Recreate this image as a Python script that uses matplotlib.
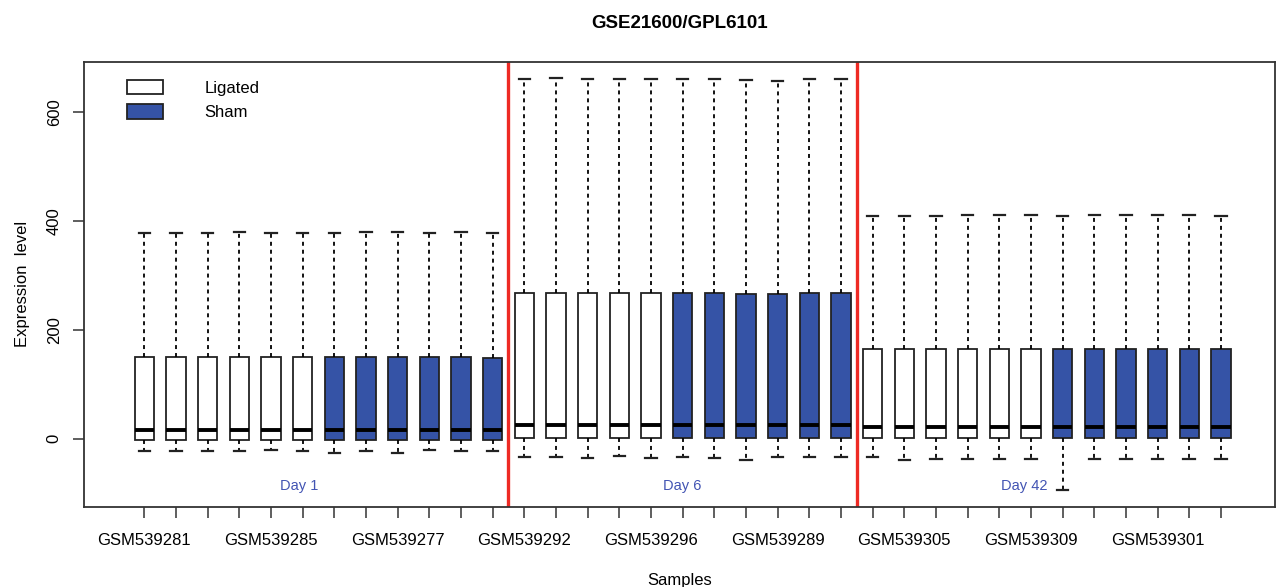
import matplotlib
matplotlib.use("Agg")
import matplotlib.pyplot as plt
from matplotlib.patches import Patch

plt.rcParams["font.family"] = ["Liberation Sans", "DejaVu Sans"]

# sample groups (Ligated / Sham) for the 35 boxes: day 1, day 6, day 42
groups = (["Ligated"] * 6 + ["Sham"] * 6
          + ["Ligated"] * 5 + ["Sham"] * 6
          + ["Ligated"] * 6 + ["Sham"] * 6)

whis_hi = [377, 377, 377, 379, 377, 377, 377, 379, 379, 377, 379, 377,
           660, 662, 660, 660, 660, 660, 660, 659, 657, 660, 660,
           409, 409, 409, 410, 410, 411, 409, 410, 410, 411, 411, 409]
q3 = [149, 149, 149, 149, 149, 149, 149, 149, 149, 149, 149, 148,
      267, 267, 267, 267, 267, 267, 267, 266, 266, 267, 267,
      165, 165, 165, 165, 165, 165, 165, 165, 165, 165, 165, 165]
med = [16, 16, 16, 16, 16, 16, 16, 16, 16, 16, 16, 16,
       26, 26, 26, 26, 26, 26, 26, 26, 26, 26, 26,
       21, 21, 21, 21, 21, 21, 21, 21, 21, 21, 21, 21]
q1 = [-2, -2, -2, -2, -2, -2, -2, -2, -2, -2, -2, -2,
      1, 1, 1, 1, 1, 1, 1, 1, 1, 1, 1,
      1, 1, 1, 1, 1, 1, 1, 1, 1, 1, 1, 1]
whis_lo = [-22, -22, -22, -22, -21, -23, -26, -23, -26, -21, -23, -22,
           -34, -34, -36, -32, -36, -33, -36, -39, -34, -34, -33,
           -34, -39, -37, -37, -38, -38, -94, -38, -37, -37, -37, -37]

# only every 4th sample name is printed on the axis
label_pos = [1, 5, 9, 13, 17, 21, 25, 29, 33]
label_txt = ["GSM539281", "GSM539285", "GSM539277", "GSM539292", "GSM539296",
             "GSM539289", "GSM539305", "GSM539309", "GSM539301"]

day_names = ["Day 1", "Day 6", "Day 42"]
day_x = [5.9, 18.0, 28.8]
day_breaks = [12.5, 23.5]

fill = {"Ligated": "white", "Sham": "#3553a6"}

fig = plt.figure(figsize=(12.76, 5.87), dpi=100)
ax = fig.add_axes([84 / 1276, (587 - 506.7) / 587, (1275 - 84) / 1276, 445 / 587])

stats = []
for i in range(len(med)):
    stats.append({"med": med[i], "q1": q1[i], "q3": q3[i],
                  "whislo": whis_lo[i], "whishi": whis_hi[i], "fliers": []})
pos = list(range(1, len(med) + 1))

bp = ax.bxp(stats, positions=pos, widths=0.61, capwidths=0.36,
            patch_artist=True, showfliers=False,
            boxprops=dict(edgecolor="#222222", linewidth=1.3),
            whiskerprops=dict(color="black", linewidth=1.3, linestyle=(0, (2.2, 2.2))),
            capprops=dict(color="#222222", linewidth=1.6),
            medianprops=dict(color="black", linewidth=2.8, solid_capstyle="butt"))
for box, g in zip(bp["boxes"], groups):
    box.set_facecolor(fill[g])

for xb in day_breaks:
    ax.axvline(xb, color="#ee2a24", linewidth=2.4)

for name, xd in zip(day_names, day_x):
    ax.text(xd, -87, name, color="#4254b3", fontsize=10.5, ha="center", va="center")

ax.set_xlim(-0.905, 36.71)
ax.set_ylim(-124.8, 691.7)

ax.set_xticks(pos)
ax.set_xticklabels([label_txt[label_pos.index(p)] if p in label_pos else "" for p in pos])
ax.set_yticks([0, 200, 400, 600])
ax.set_yticklabels(["0", "200", "400", "600"], rotation=90, va="center")
ax.tick_params(axis="both", labelsize=12, length=8, width=1.1, color="#333333")
ax.tick_params(axis="x", pad=11)
ax.tick_params(axis="y", pad=8)
for sp in ax.spines.values():
    sp.set_color("#333333")
    sp.set_linewidth(1.3)

ax.set_xlabel("Samples", fontsize=12, labelpad=18)
ax.set_ylabel("Expression  level", fontsize=12, labelpad=12)
ax.set_title("GSE21600/GPL6101", fontsize=13.5, fontweight="bold", pad=24)

handles = [Patch(facecolor=fill[g], edgecolor="#222222", linewidth=1.3, label=g)
           for g in ["Ligated", "Sham"]]
ax.legend(handles=handles, loc="upper left", bbox_to_anchor=(0.036, 0.959),
          frameon=False, fontsize=12, borderpad=0, borderaxespad=0,
          handlelength=2.16, handleheight=0.96, handletextpad=2.5,
          labelspacing=0.5)

fig.savefig("out.png", dpi=100, facecolor="white")
